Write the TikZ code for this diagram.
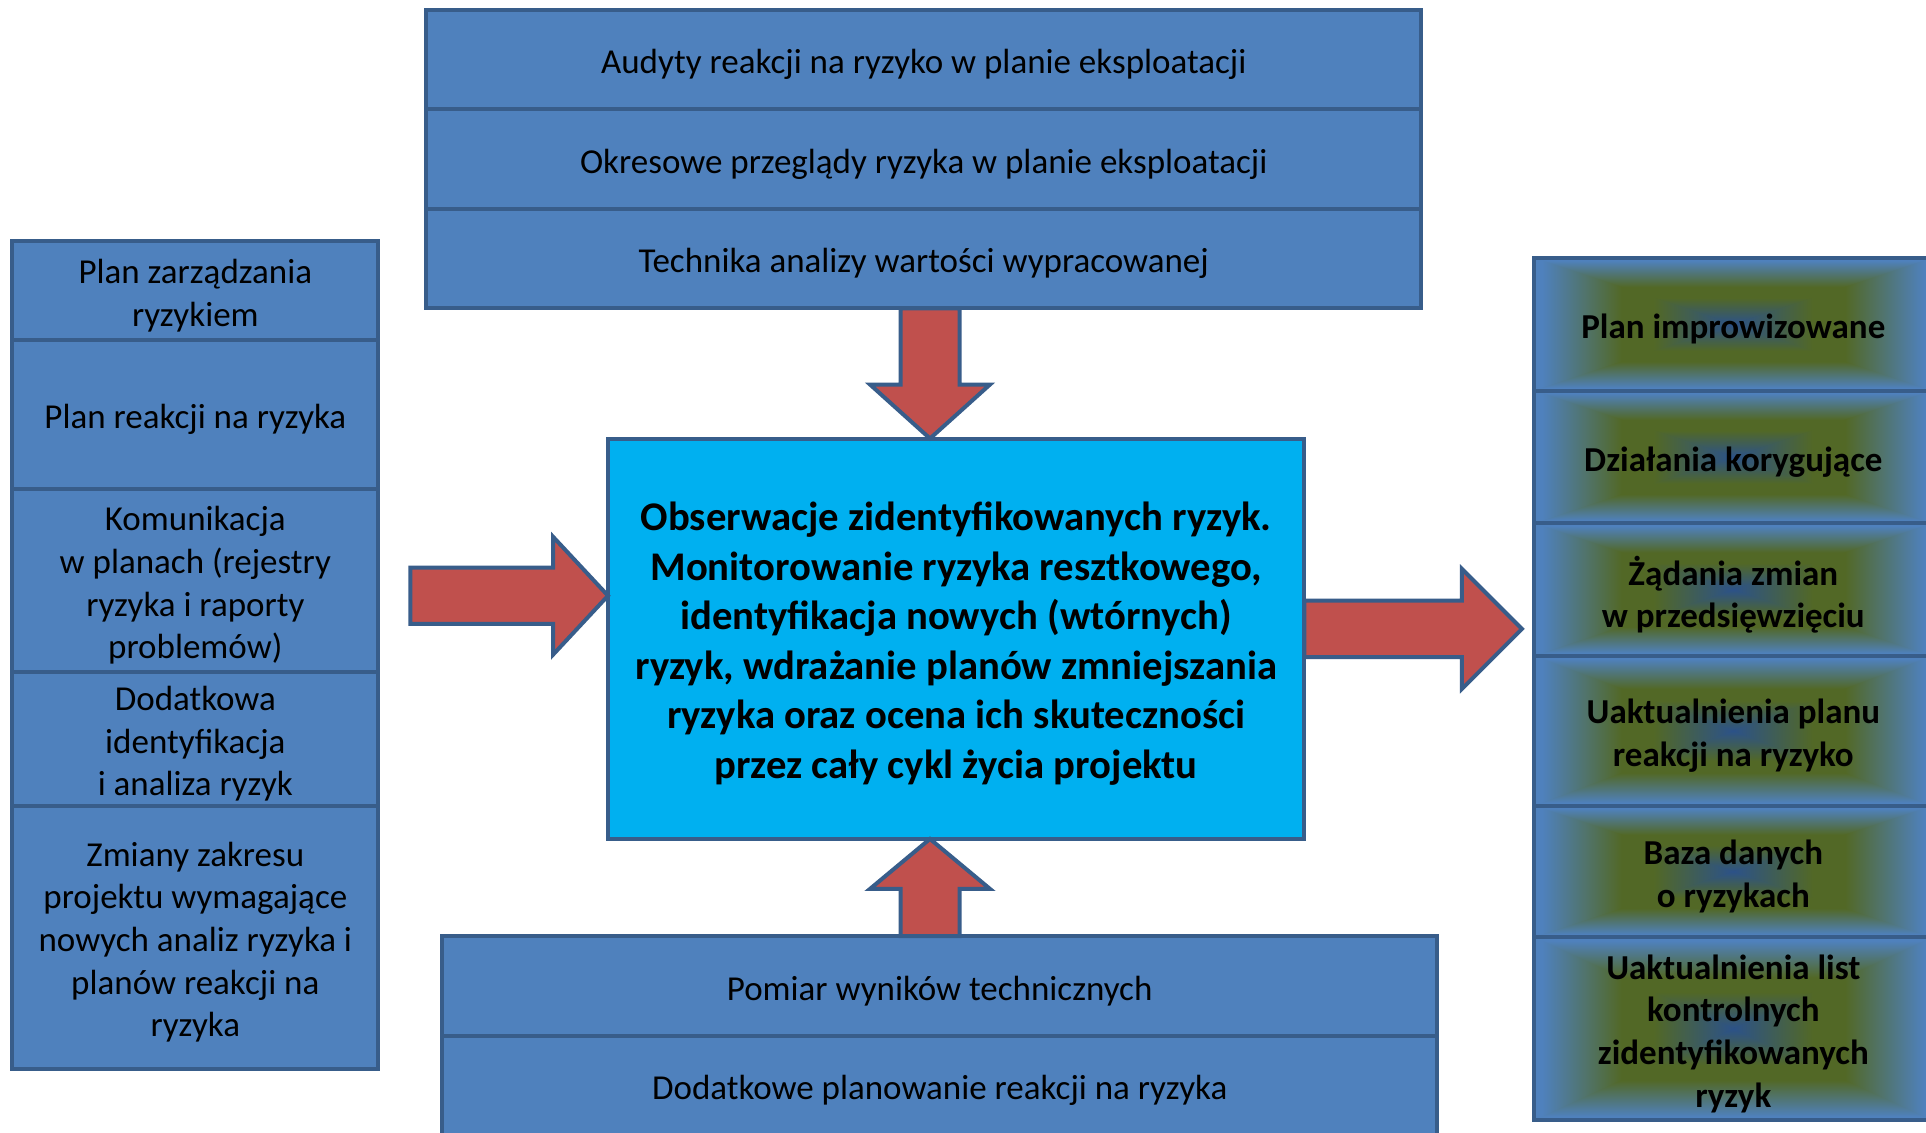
\documentclass[tikz,border=0pt]{standalone}
\usepackage{fontspec}
\setmainfont{Carlito}
\usetikzlibrary{calc}

\definecolor{cellblue}{HTML}{4F81BD}
\definecolor{edgeblue}{HTML}{385D8A}
\definecolor{corecyan}{HTML}{00B0F0}
\definecolor{arrowred}{HTML}{C0504D}
\definecolor{ringolive}{RGB}{82,104,38}
\definecolor{ringcore}{RGB}{44,82,136}

% rectangular "ring" gradient: blue rim, olive band, dark blue core
\pgfdeclareverticalshading{ringv}{100bp}{color(0bp)=(cellblue); color(25bp)=(cellblue);
  color(26bp)=(cellblue); color(36bp)=(ringolive); color(40bp)=(ringolive); color(50bp)=(ringcore);
  color(60bp)=(ringolive); color(64bp)=(ringolive); color(74bp)=(cellblue); color(75bp)=(cellblue); color(100bp)=(cellblue)}
\pgfdeclarehorizontalshading{ringh}{100bp}{color(0bp)=(cellblue); color(25bp)=(cellblue);
  color(26bp)=(cellblue); color(36bp)=(ringolive); color(40bp)=(ringolive); color(50bp)=(ringcore);
  color(60bp)=(ringolive); color(64bp)=(ringolive); color(74bp)=(cellblue); color(75bp)=(cellblue); color(100bp)=(cellblue)}

\tikzset{
  cell/.style={draw=edgeblue, line width=4pt, fill=cellblue, inner sep=0pt, outer sep=0pt},
  celltext/.style={text=black, inner sep=0pt, align=center, yshift=-5pt,
    font=\fontsize{35}{42.6}\selectfont},
  centercell/.style={fill=corecyan},
  centertext/.style={font=\bfseries\fontsize{40.7}{49.5}\selectfont},
  ringcell/.style={fill=none},
  ringtext/.style={font=\bfseries\fontsize{35}{42.6}\selectfont},
  barrow/.style={draw=edgeblue, line width=4pt, fill=arrowred, line join=miter},
}

% [box style]{name}{x1}{y1}{x2}{y2}{text}
\newcommand\boxcell[7][]{%
  \node[cell,#1,minimum width={#5-#3},minimum height={#6-#4}] (#2)
    at ({(#3+#5)/2},{(#4+#6)/2}) {};
  \node[celltext,\celltextstyle] (#2-txt) at (#2.center) {#7};}
\def\celltextstyle{}

% {name}{x1}{y1}{x2}{y2}{text} -- cell with a rectangular path gradient
\newcommand\ringcell[6]{%
  \shade[shading=ringv] (#2,#3) rectangle (#4,#5);
  \begin{scope}
    \clip (#2,#3) -- ({(#2+#4)/2},{(#3+#5)/2}) -- (#2,#5) -- cycle
          (#4,#3) -- ({(#2+#4)/2},{(#3+#5)/2}) -- (#4,#5) -- cycle;
    \shade[shading=ringh] (#2,#3) rectangle (#4,#5);
  \end{scope}
  \def\celltextstyle{ringtext}%
  \boxcell[ringcell]{#1}{#2}{#3}{#4}{#5}{#6}%
  \def\celltextstyle{}}

% {start}{tip}{shaft half width}{head half width}{head length}
\newcommand\blockarrow[5]{%
  \coordinate (hb) at ($(#2)!#5!(#1)$);
  \draw[barrow] ($(#1)!#3!90:(#2)$) -- ($(hb)!#3!90:(#2)$) -- ($(hb)!#4!90:(#2)$)
    -- (#2) -- ($(hb)!#4!-90:(#2)$) -- ($(hb)!#3!-90:(#2)$) -- ($(#1)!#3!-90:(#2)$) -- cycle;}

\begin{document}
\begin{tikzpicture}[x=1pt,y=-1pt]
\clip (0,0) rectangle (1926,1132);
\fill[white] (0,0) rectangle (1926,1132);

% top stack
\boxcell{t1}{426.2}{9.8}{1421.1}{109.3}{Audyty reakcji na ryzyko w planie eksploatacji}
\boxcell{t2}{426.2}{109.3}{1421.1}{208.8}{Okresowe przeglądy ryzyka w planie eksploatacji}
\boxcell{t3}{426.2}{208.8}{1421.1}{308.3}{Technika analizy wartości wypracowanej}

% left stack
\boxcell{l1}{12.3}{240.7}{378.3}{340.2}{Plan zarządzania\\ryzykiem}
\boxcell{l2}{12.3}{340.2}{378.3}{488.9}{Plan reakcji na ryzyka}
\boxcell{l3}{12.3}{488.9}{378.3}{671.9}{Komunikacja\\w planach (rejestry\\ryzyka i raporty\\problemów)}
\boxcell{l4}{12.3}{671.9}{378.3}{805.8}{Dodatkowa\\identyfikacja\\i analiza ryzyk}
\boxcell{l5}{12.3}{805.8}{378.3}{1068.6}{Zmiany zakresu\\projektu wymagające\\nowych analiz ryzyka i\\planów reakcji na\\ryzyka}

% central process
\def\celltextstyle{centertext}
\boxcell[centercell]{mid}{608}{438.5}{1304.4}{838.9}{Obserwacje zidentyfikowanych ryzyk.\\Monitorowanie ryzyka resztkowego,\\identyfikacja nowych (wtórnych)\\ryzyk, wdrażanie planów zmniejszania\\ryzyka oraz ocena ich skuteczności\\przez cały cykl życia projektu}
\def\celltextstyle{}

% bottom stack
\boxcell{b1}{442.2}{936}{1437.1}{1035.5}{Pomiar wyników technicznych}
\boxcell{b2}{442.2}{1035.5}{1437.1}{1135}{Dodatkowe planowanie reakcji na ryzyka}

% right stack (outputs)
\ringcell{r1}{1534.1}{257.9}{1932.5}{390.6}{Plan improwizowane}
\ringcell{r2}{1534.1}{390.6}{1932.5}{523.3}{Działania korygujące}
\ringcell{r3}{1534.1}{523.3}{1932.5}{655.9}{Żądania zmian\\w przedsięwzięciu}
\ringcell{r4}{1534.1}{655.9}{1932.5}{805.8}{Uaktualnienia planu\\reakcji na ryzyko}
\ringcell{r5}{1534.1}{805.8}{1932.5}{937.2}{Baza danych\\o ryzykach}
\ringcell{r6}{1534.1}{937.2}{1932.5}{1120.2}{Uaktualnienia list\\kontrolnych\\zidentyfikowanych\\ryzyk}

% block arrows
\coordinate (ax) at (930,0);
\coordinate (dn-s) at (t3.south -| ax);
\coordinate (dn-t) at (mid.north -| ax);
\coordinate (up-s) at (b1.north -| ax);
\coordinate (up-t) at (mid.south -| ax);
\coordinate (la-s) at (410.3,595.7);
\coordinate (la-t) at (mid.west |- la-s);
\coordinate (ra-y) at (0,628.9);
\coordinate (ra-s) at (mid.east |- ra-y);
\coordinate (ra-t) at (1521.9,628.9);

\blockarrow{dn-s}{dn-t}{29.5pt}{60pt}{54pt}
\blockarrow{up-s}{up-t}{29.5pt}{60pt}{50pt}
\blockarrow{la-s}{la-t}{28.2pt}{59pt}{55pt}
\blockarrow{ra-s}{ra-t}{28.2pt}{60pt}{60pt}
\end{tikzpicture}
\end{document}
